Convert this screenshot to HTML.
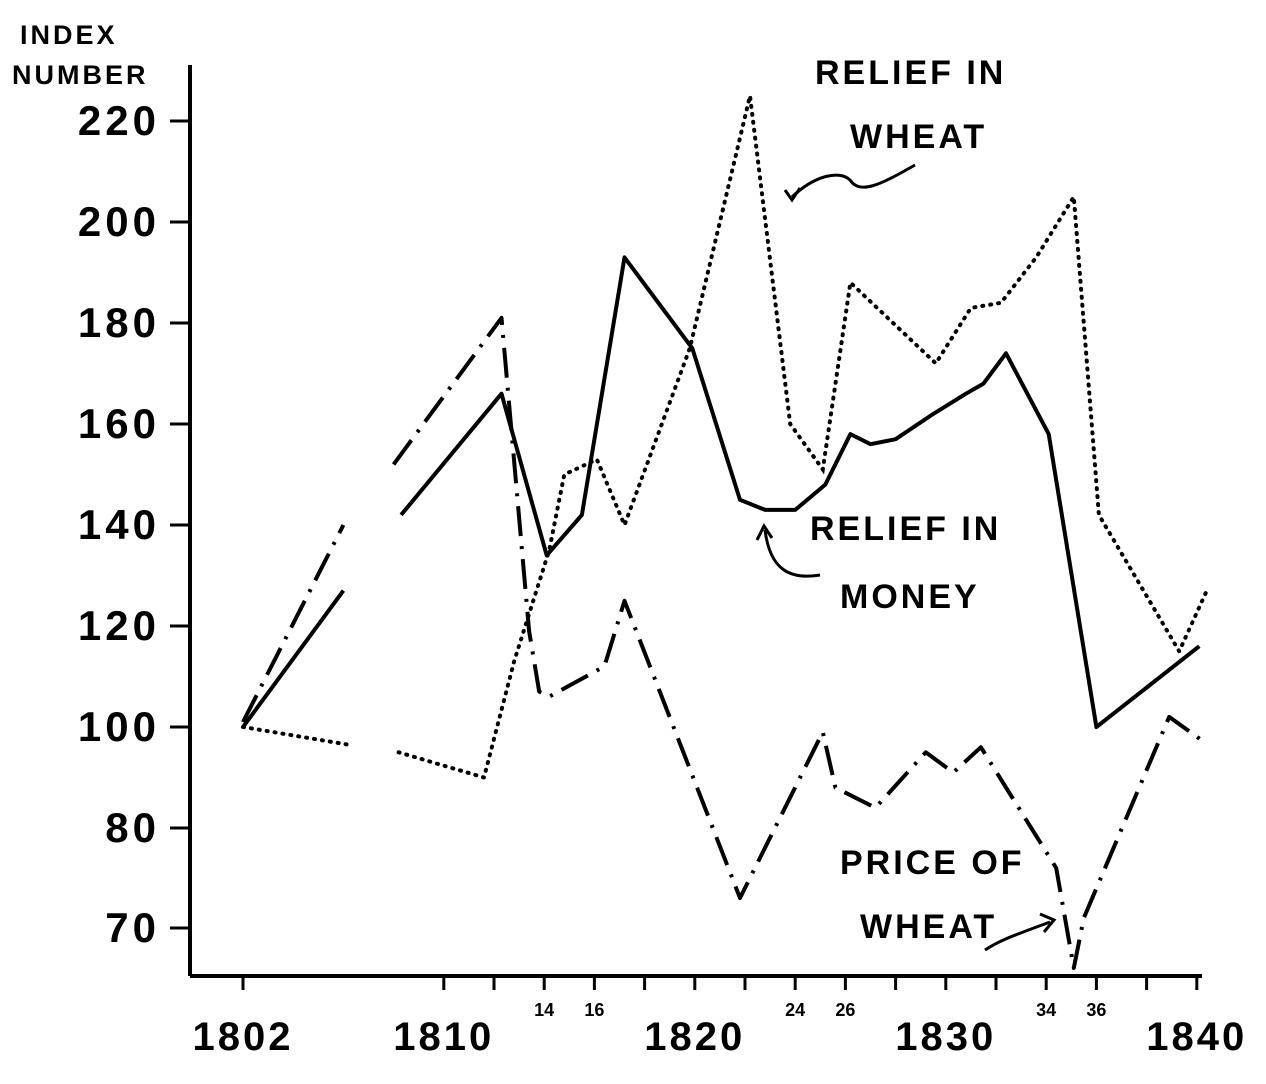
<!DOCTYPE html>
<html><head><meta charset="utf-8"><style>
html,body{margin:0;padding:0;background:#fff;}
svg{display:block;font-family:"Liberation Sans",sans-serif;}
</style></head><body>
<svg width="1266" height="1084" viewBox="0 0 1266 1084">
<g id="axes"></g>
<g id="series"></g>
<g font-size="34" fill="#000" letter-spacing="3" font-weight="600">
<text x="20" y="44" font-size="27" font-weight="bold">INDEX</text>
<text x="12" y="84" font-size="27" font-weight="bold">NUMBER</text>
<text x="815" y="84">RELIEF IN</text>
<text x="850" y="148">WHEAT</text>
<text x="810" y="540">RELIEF IN</text>
<text x="840" y="608">MONEY</text>
<text x="840" y="874">PRICE OF</text>
<text x="860" y="938">WHEAT</text>
<path d="M915 165 C880 185 860 195 850 180 C840 170 815 175 792 197" fill="none" stroke="#000" stroke-width="3"/>
<path d="M785 190 L792 200 L800 188" fill="none" stroke="#000" stroke-width="3"/>
<path d="M820 575 C790 580 770 570 765 530" fill="none" stroke="#000" stroke-width="3"/>
<path d="M757 540 L764 526 L772 538" fill="none" stroke="#000" stroke-width="3"/>
<path d="M985 950 C1000 940 1015 935 1050 922" fill="none" stroke="#000" stroke-width="3"/>
<path d="M1040 914 L1054 920 L1044 932" fill="none" stroke="#000" stroke-width="3"/>
</g>
</svg>
<script>
const yTicks=[220,200,180,160,140,120,100,80,70];
const xMajor=[1802,1810,1820,1830,1840];
const xMajorLabels=["1802","1810","1820","1830","1840"];
const xMinor=[1814,1816,1824,1826,1834,1836];
const xMinorLabels=["14","16","24","26","34","36"];
const xTickYears=[1810,1812,1814,1816,1818,1820,1822,1824,1826,1828,1830,1832,1834,1836,1838,1840];
const moneyYears=[1802,1806,null,1808.3,1812.3,1814.1,1815.5,1817.2,1819.9,1821.8,1822.8,1824,1825.2,1826.2,1827,1828,1829.5,1830.8,1831.5,1832.4,1834.1,1836,1840.1];
const moneyVals=[100,127,null,142,166,134,142,193,175,145,143,143,148,158,156,157,162,166,168,174,158,100,116];
const wheatReliefYears=[1802,1806.2,null,1808.2,1811.6,1812.8,1814.2,1814.8,1816.1,1817.2,1819.8,1822.2,1823.8,1825.1,1826.2,1829.6,1831,1832.2,1833.6,1835.1,1836.1,1839.3,1840.4];
const wheatReliefVals=[100,96.5,null,95,90,113,135,150,153,140,175,225,160,151,188,172,183,184,193,205,142,115,127];
const priceYears=[1802,1806,null,1808,1812.3,1813.4,1813.8,1814.2,1816.4,1817.2,1821.8,1825.1,1825.6,1827.2,1829.2,1830.3,1831.4,1834.4,1835.1,1835.5,1838.9,1840.3];
const priceVals=[101,140,null,152,181,119,107,106,112,125,73,99,88,84,95,91,96,76,66,71,102,97];

const NS="http://www.w3.org/2000/svg";
function X(yr){return 243+(yr-1802)*25.1;}
function Y(v){return v>=80?727-(v-100)*5.05:828+(80-v)*10;}
function mk(tag,attrs,parent){const e=document.createElementNS(NS,tag);for(const k in attrs)e.setAttribute(k,attrs[k]);parent.appendChild(e);return e;}
const axes=document.getElementById('axes');
const ya=mk('line',{x1:190,y1:65,x2:190,y2:976,stroke:'#000','stroke-width':4},axes);


const xa=mk('line',{x1:190,y1:976,x2:1202,y2:976,stroke:'#000','stroke-width':4},axes);


yTicks.forEach(v=>{
  const t=mk('line',{x1:170,x2:190,y1:Y(v),y2:Y(v),stroke:'#000','stroke-width':3},axes);
  
  
  const l=mk('text',{x:160,y:Y(v)+14,'text-anchor':'end','font-size':42,'font-weight':600,'letter-spacing':4},axes);
  l.textContent=String(v);
  
  
});
xTickYears.concat([1802]).forEach(yr=>{
  const t=mk('line',{x1:X(yr),x2:X(yr),y1:976,y2:990,stroke:'#000','stroke-width':3},axes);
  
  
});
xMajor.forEach((yr,i)=>{
  const l=mk('text',{x:X(yr),y:1050,'text-anchor':'middle','font-size':40,'font-weight':600,'letter-spacing':3},axes);
  l.textContent=xMajorLabels[i];
  
  
});
xMinor.forEach((yr,i)=>{
  const l=mk('text',{x:X(yr),y:1016,'text-anchor':'middle','font-size':18,'font-weight':'bold'},axes);
  l.textContent=xMinorLabels[i];
  
  
});
function pathFrom(ys,vs){let d='',pen=false;for(let i=0;i<ys.length;i++){if(ys[i]===null){pen=false;continue;}d+=(pen?'L':'M')+X(ys[i]).toFixed(1)+' '+Y(vs[i]).toFixed(1)+' ';pen=true;}return d;}
const ser=document.getElementById('series');
const p1=mk('path',{d:pathFrom(moneyYears,moneyVals),fill:'none',stroke:'#000','stroke-width':4,'stroke-linejoin':'round'},ser);


const p2=mk('path',{d:pathFrom(wheatReliefYears,wheatReliefVals),fill:'none',stroke:'#000','stroke-width':4,'stroke-dasharray':'1 7','stroke-linecap':'round'},ser);


const p3=mk('path',{d:pathFrom(priceYears,priceVals),fill:'none',stroke:'#000','stroke-width':4,'stroke-dasharray':'30 10 3 10','stroke-linejoin':'round'},ser);


</script>
</body></html>
